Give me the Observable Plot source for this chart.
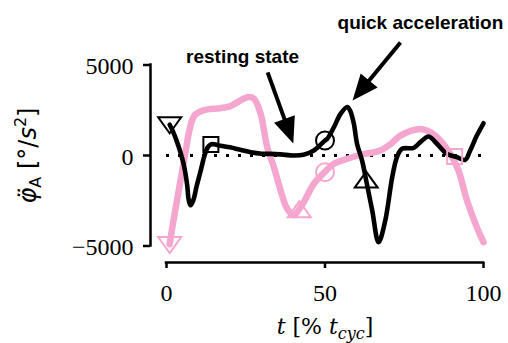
<!DOCTYPE html>
<html><head><meta charset="utf-8">
<script src="https://cdn.jsdelivr.net/npm/d3@7"></script>
<script src="https://cdn.jsdelivr.net/npm/@observablehq/plot@0.6"></script>
<style>body{margin:0;background:#fff}</style>
</head><body><div id="chart"></div>
<script>
// ---- data ----
const blackT = [1, 2, 3, 4, 5.5, 6.5, 7, 7.6, 8.5, 9.5, 10.8, 12, 13, 14, 15, 17, 20, 23, 26.6, 30, 32.8, 36, 40.2, 43.2, 46.5, 47.5, 50, 50.7, 52.8, 54.9, 57, 58, 59.1, 60.1, 61.7, 63.1, 64.9, 66.9, 69, 71.2, 72.7, 74.3, 78, 80.1, 82.7, 85.3, 88.5, 91.6, 94.2, 95.8, 97.9, 100];
const blackV = [1700, 1350, 900, 400, -550, -1600, -2450, -2750, -2450, -1700, -830, 0, 450, 620, 620, 540, 450, 330, 180, 100, 90, 60, 0, 40, 280, 420, 830, 920, 1560, 2300, 2680, 2450, 1750, 650, -280, -1470, -3040, -4790, -3600, -1200, -90, 370, 420, 740, 1050, 650, 90, -90, -240, 280, 1100, 1780];
const pinkT = [1, 2, 3, 4, 5, 6, 7, 8, 9, 10.8, 13.4, 16, 19.7, 22, 25.5, 27.6, 29.7, 31.8, 33.9, 36, 38.1, 40.2, 41.9, 43.3, 46.5, 50, 52.8, 57, 61.2, 67.5, 70.6, 73.8, 80.1, 83.2, 86.4, 89.5, 92.1, 94.8, 97.9, 100];
const pinkV = [-4900, -3800, -2800, -1800, -800, 200, 1200, 1900, 2250, 2450, 2560, 2600, 2700, 2900, 3220, 3130, 2300, 440, -650, -1930, -2950, -3300, -2950, -2580, -1560, -900, -460, -180, 40, 280, 620, 1100, 1470, 1290, 830, 90, -830, -2490, -3960, -4790];

const blackMarkT = [1, 14, 50, 63];
const blackMarkV = [1670, 610, 830, -1330];
const blackMarkShape = ["down", "square", "circle", "up"];
const pinkMarkT = [1, 41.9, 50, 90.9];
const pinkMarkV = [-4950, -2970, -920, -50];
const pinkMarkShape = ["down", "up", "circle", "square"];

const xTicks = [0, 50, 100];
const yTicks = [-5000, 0, 5000];

const annoText = ["resting state", "quick acceleration"];
const annoTextT = [24.0, 80.1];
const annoTextV = [5470, 7330];
const arrowFromT = [31.9, 73.8];
const arrowFromV = [4590, 6240];
const arrowToT = [40.0, 58.7];
const arrowToV = [660, 3040];

// ---- layout / style ----
const W = 508, H = 343;
const xr = [166, 483], yr = [245.5, 64.5];
const PINK = "#f4a6cf";
const sx = Plot.scale({x: {domain: [0, 100], range: xr}});
const sy = Plot.scale({y: {domain: [-5000, 5000], range: yr}});
const arrowAngle = arrowFromT.map((_, i) => {
  const dx = sx.apply(arrowToT[i]) - sx.apply(arrowFromT[i]);
  const dy = sy.apply(arrowToV[i]) - sy.apply(arrowFromV[i]);
  return Math.atan2(dx, -dy) * 180 / Math.PI;
});

const poly = (pts) => ({draw(ctx) {
  ctx.moveTo(pts[0][0], pts[0][1]);
  for (let k = 1; k < pts.length; ++k) ctx.lineTo(pts[k][0], pts[k][1]);
  ctx.closePath();
}});
const shapeSym = {
  up: poly([[0, -8], [11.5, 8], [-11.5, 8]]),
  down: poly([[0, 8], [11.5, -8], [-11.5, -8]]),
  square: poly([[-7.5, -7.5], [7.5, -7.5], [7.5, 7.5], [-7.5, 7.5]]),
  circle: {draw(ctx) { ctx.moveTo(9, 0); ctx.arc(0, 0, 9, 0, 2 * Math.PI); ctx.closePath(); }}
};
const headSym = poly([[0, 0], [11, 26], [-11, 26]]);

function markerMarks(T, V, S, color) {
  return Object.keys(shapeSym).map(k => Plot.dot(
    d3.range(T.length).filter(i => S[i] === k),
    {x: i => T[i], y: i => V[i], symbol: shapeSym[k], stroke: color, fill: "none", strokeWidth: 2}
  ));
}
const idx = (a) => d3.range(a.length);
const fmt = d => d < 0 ? "\u2212" + Math.abs(d) : String(d);
const blank = () => "";

const chart = Plot.plot({
  width: W, height: H,
  marginLeft: 150, marginRight: 25, marginTop: 64.5, marginBottom: 81,
  x: {domain: [0, 100], range: xr},
  y: {domain: [-5000, 5000], range: yr},
  style: {fontFamily: "'Liberation Serif', serif", background: "white", color: "black", overflow: "visible"},
  marks: [
    Plot.ruleY([0], {x1: 0, x2: 100, stroke: "black", strokeWidth: 3, strokeDasharray: "3,9"}),
    Plot.line(idx(pinkT), {x: i => pinkT[i], y: i => pinkV[i], stroke: PINK, strokeWidth: 6.5, curve: "catmull-rom", strokeLinejoin: "round"}),
    Plot.line(idx(blackT), {x: i => blackT[i], y: i => blackV[i], stroke: "black", strokeWidth: 4.6, curve: "catmull-rom", strokeLinejoin: "round"}),
    ...markerMarks(pinkMarkT, pinkMarkV, pinkMarkShape, PINK),
    ...markerMarks(blackMarkT, blackMarkV, blackMarkShape, "black"),
    // offset spines
    Plot.ruleX([0], {y1: -5000, y2: 5000, dx: -16, stroke: "black", strokeWidth: 2.5, strokeLinecap: "square"}),
    Plot.ruleY([-5000], {x1: 0, x2: 100, dy: 16.5, stroke: "black", strokeWidth: 2.5, strokeLinecap: "square"}),
    // ticks
    Plot.axisY({ticks: yTicks, tickFormat: blank, tickSize: 7, strokeWidth: 2.5, label: null}),
    Plot.axisY({ticks: yTicks, tickFormat: fmt, tickSize: 0, tickPadding: 17, dy: 1.5, fontSize: 24, label: null}),
    Plot.axisX({ticks: xTicks, tickFormat: fmt, tickSize: 6, tickPadding: 15, strokeWidth: 2.5, fontSize: 24, label: null}),
    // axis labels (rich text filled in below)
    Plot.text([0], {y: d => d, text: () => "YLABEL", frameAnchor: "left", textAnchor: "middle", lineAnchor: "middle", dx: -122, rotate: -90, fontSize: 24, fontFamily: "'DejaVu Sans', sans-serif"}),
    Plot.text([50], {x: d => d, text: () => "XLABEL", frameAnchor: "bottom", textAnchor: "middle", lineAnchor: "middle", dy: 64, fontSize: 22, fontFamily: "'DejaVu Serif', serif", letterSpacing: 0.8}),
    // annotations
    Plot.text(idx(annoText), {x: i => annoTextT[i], y: i => annoTextV[i], text: i => annoText[i], fontFamily: "'Liberation Sans', Arial, sans-serif", fontWeight: "bold", fontSize: 19, fill: "black"}),
    Plot.arrow(idx(arrowFromT), {x1: i => arrowFromT[i], y1: i => arrowFromV[i], x2: i => arrowToT[i], y2: i => arrowToV[i], headLength: 0, insetEnd: 14, stroke: "black", strokeWidth: 4, strokeLinecap: "butt"}),
    Plot.dot(idx(arrowToT), {x: i => arrowToT[i], y: i => arrowToV[i], symbol: headSym, rotate: i => arrowAngle[i], fill: "black", stroke: "none"})
  ]
});
document.getElementById("chart").appendChild(chart);

// rich-text axis labels (sub/superscripts)
const svg = d3.select(chart);
function rich(key, parts) {
  const sel = svg.selectAll("text").filter(function() { return this.textContent === key; });
  sel.text(null);
  let shift = 0;
  for (const p of parts) {
    const ts = sel.append("tspan").text(p.t);
    if (p.italic) ts.attr("font-style", "italic");
    const target = p.shift || 0;
    if (target !== shift) { ts.attr("dy", target - shift); shift = target; }
    if (p.size) ts.attr("font-size", p.size);
  }
}
rich("YLABEL", [
  {t: "\u03c6\u0308", italic: true},
  {t: "A", size: 16, shift: 5},
  {t: " [\u00b0/"},
  {t: "s", italic: true},
  {t: "2", size: 16, shift: -10},
  {t: "]"}
]);
rich("XLABEL", [
  {t: "t", italic: true},
  {t: " [% "},
  {t: "t", italic: true},
  {t: "cyc", italic: true, size: 16, shift: 5},
  {t: "]"}
]);
</script>
</body></html>
